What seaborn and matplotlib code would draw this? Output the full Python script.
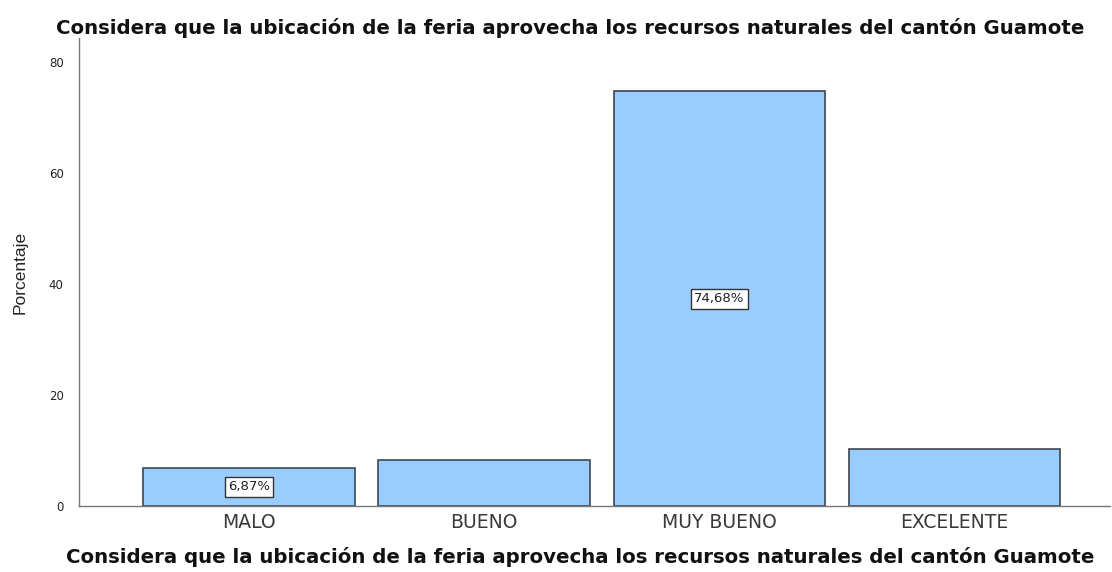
import pandas as pd
import matplotlib
matplotlib.use("Agg")
import matplotlib.pyplot as plt
import seaborn as sns

# Data
categories = ["MALO", "BUENO", "MUY BUENO", "EXCELENTE"]
percentages = [6.87, 8.24, 74.68, 10.21]
bar_labels = ["6,87%", "", "74,68%", ""]
y_ticks = [0, 20, 40, 60, 80]

title = "Considera que la ubicación de la feria aprovecha los recursos naturales del cantón Guamote"

df = pd.DataFrame({"categoria": categories, "porcentaje": percentages})

sns.set_style("white")
plt.rcParams["font.family"] = ["DejaVu Sans"]

fig = plt.figure(figsize=(11.12, 5.72), dpi=100)
ax = fig.add_axes([0.071, 0.1154, 0.927, 0.818])

sns.barplot(data=df, x="categoria", y="porcentaje", color="#99CCFF",
            edgecolor="#3c4650", linewidth=1.2, width=0.9, saturation=1, ax=ax)

# value labels in little white boxes, centred in the bar
for i, (val, lab) in enumerate(zip(percentages, bar_labels)):
    if lab:
        ax.text(i, val / 2, lab, ha="center", va="center", fontsize=9.5,
                color="#222222",
                bbox=dict(boxstyle="square,pad=0.25", facecolor="white",
                          edgecolor="#333333", linewidth=1.0))

ax.set_xlim(-0.723, 3.66)
ax.set_ylim(0, 84.3)
ax.set_yticks(y_ticks)
ax.tick_params(axis="y", length=0, labelsize=8.5, pad=11, labelcolor="#222222")
ax.tick_params(axis="x", length=0, labelsize=13.5, pad=5, labelcolor="#3a3a3a")

sns.despine(ax=ax)
for s in ["left", "bottom"]:
    ax.spines[s].set_color("#777777")
    ax.spines[s].set_linewidth(1.0)

ax.set_xlabel("")
ax.set_ylabel("Porcentaje", fontsize=12.5, family=["Liberation Sans Narrow", "Liberation Sans"],
              labelpad=15)

fig.text(0.5126, 0.951, title, ha="center", va="center", fontsize=14.2,
         fontweight="bold", color="#111111")
fig.text(0.5216, 0.026, title, ha="center", va="center", fontsize=14.2,
         fontweight="bold", color="#111111")

fig.savefig("out.png", dpi=100)
